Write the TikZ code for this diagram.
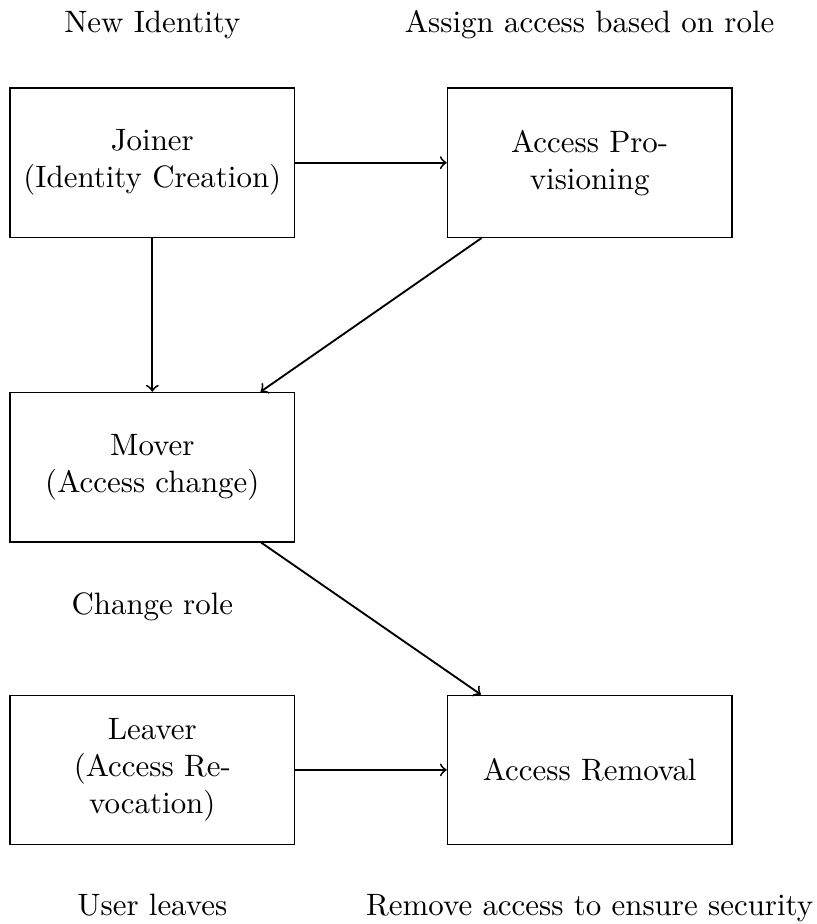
\documentclass[tikz,border=0pt]{standalone}
\usetikzlibrary{positioning}

\begin{document}
\begin{tikzpicture}[
    box/.style={draw, text width=3cm, align=center, minimum height=1.7cm},
    arrow/.style={->, semithick}]
      \useasboundingbox (-1.731, 1.849) rectangle (7.543, -8.651);
      % the five stages
      \node[box] (joiner) at (0, 0) {Joiner\\(Identity Creation)};
      \node[box] (prov) at (4.97, 0) {Access Pro-\\visioning};
      \node[box] (mover) at (0, -3.46) {Mover\\(Access change)};
      \node[box] (leaver) at (0, -6.9) {Leaver\\(Access Re-\\vocation)};
      \node[box] (removal) at (4.97, -6.9) {Access Removal};
      % notes
      \node[above=0.43cm of joiner] (newid) {New Identity};
      \node[above=0.43cm of prov] (assign) {Assign access based on role};
      \node[below=0.45cm of mover] (change) {Change role};
      \node[below=0.43cm of leaver] (leaves) {User leaves};
      \node[below=0.43cm of removal] (secure) {Remove access to ensure security};
      \draw[arrow] (joiner) -- (prov);
      \draw[arrow] (joiner) -- (mover);
      \draw[arrow] (prov) -- (mover);
      \draw[arrow] (mover) -- (removal);
      \draw[arrow] (leaver) -- (removal);
    \end{tikzpicture}
\end{document}
